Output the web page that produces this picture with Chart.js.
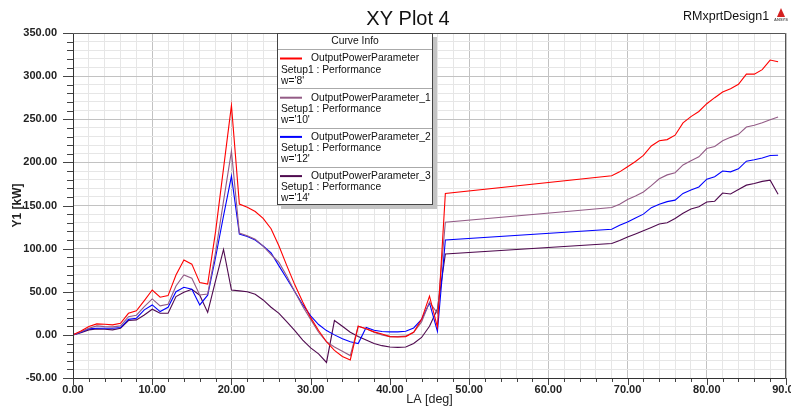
<!DOCTYPE html>
<html><head><meta charset="utf-8">
<script src="https://cdn.jsdelivr.net/npm/chart.js@4.4.0/dist/chart.umd.min.js"></script>
<style>html,body{margin:0;padding:0;background:#fff;}#wrap{width:791px;height:408px;position:relative;}</style>
</head><body><div id="wrap"><canvas id="c" width="791" height="408"></canvas></div>
<script>
// LA [deg] sample positions (shared by all curves)
const LA = [0,1,2,3,4,5,6,7,8,9,10,11,12,13,14,15,16,17,18,19,20,21,22,23,24,25,26,27,28,29,30,31,32,33,34,35,36,37,38,39,40,41,42,43,44,45,46,47,
            68,69,70,71,72,73,74,75,76,77,78,79,80,81,82,83,84,85,86,87,88,89];
// Y1 [kW]
const powerW8 = [0,4.5,9.6,12.7,12.3,11.6,13.5,25,27.8,39.7,52,43.6,45.5,69.4,86.8,82,60.6,59,120,193,266,151.6,148,143,135,123,103,80,58,38,20,5,-8,-18,-25,-29,10,7,3.5,1,-2,-2.5,-2,3,18,45,9,164,
                 184.4,189,195,201,208,219,225,226.4,231.5,245.8,253,259,268,275,281.5,285.5,290.5,302.3,302.3,307.5,318.6,316.6];
const powerW10 = [0,3.5,7.7,10.4,9.6,9.3,10.4,21,22.8,32.8,41.7,33.6,35.5,56.7,69.4,65.6,46.3,47.4,96,155,213,118,115,111,103,93,84,68,50,33,18,3,-8,-14,-19,-24,10,7,3,0,-2,-2,-1.5,3,15,38,25,130.5,
                  147.7,151.4,157,161,165.7,173,181,185.5,188,197,202,206.5,216,218.5,225,229,232.5,241,243,246,249.5,252.6];
const powerW12 = [0,3,7,7.7,7.7,7.7,8.5,18,19.3,29,34.7,27,32,50,55.2,52.8,34.7,46,90,138,184,117,114,110,103,95,80,65,50,35,22,12,5,0,-4.5,-8,-10,8.5,5.4,4,3.5,3.5,4.2,8,18,37,4,110,
                  122.5,127,131,135.5,140,147.5,151.5,154.5,156.2,164,168,171.5,180.5,183.3,190,189,192.5,201.4,203,205,208,208.3];
const powerW14 = [0,2.5,5.8,7,6.6,5.8,7.7,16.6,17.4,23,29.7,25,25,44.4,49.4,52.8,46,26,63,99,52,51,50,47,40.5,32,25,15,5,-6,-15,-22,-32,16.6,10,3,-2,-6,-10,-12.5,-14,-14.5,-14,-10,-3,10,30,93.7,
                  106,109.5,113.5,117,120.7,124.5,128.5,130,135,141,146,148.5,154,155,164.5,163.3,168.5,173.6,175.5,178,179.4,163];
const curveNames = ['OutputPowerParameter','OutputPowerParameter_1','OutputPowerParameter_2','OutputPowerParameter_3'];
const curveSetup = 'Setup1 : Performance';
const curveW = ["w='8'","w='10'","w='12'","w='14'"];
const curveColors = ['#ff0000','#935b86','#0000ff','#4f0a4f'];
const seriesValues = [powerW8, powerW10, powerW12, powerW14];
const xTickStep = 2, xMajor = 10, yTickStep = 10, yMajor = 50;

const FONT = '"Liberation Sans", Arial, sans-serif';
const isMul = (v, m) => Math.abs(v / m - Math.round(v / m)) < 1e-6;

const decor = {
  id: 'decor',
  beforeDraw(chart) {
    const ctx = chart.ctx; ctx.save(); ctx.fillStyle = '#fff'; ctx.fillRect(0, 0, chart.width, chart.height); ctx.restore();
  },
  afterDatasetsDraw(chart) {
    const {ctx, chartArea: a, scales: {x, y}} = chart;
    ctx.save();
    // tick marks
    ctx.strokeStyle = '#444'; ctx.lineWidth = 1;
    ctx.beginPath();
    x.ticks.forEach(t => {
      const px = Math.round(x.getPixelForValue(t.value)) + 0.5;
      const len = isMul(t.value, xMajor) ? 7 : 4;
      ctx.moveTo(px, a.bottom); ctx.lineTo(px, a.bottom + len);
    });
    y.ticks.forEach(t => {
      const py = Math.round(y.getPixelForValue(t.value)) + 0.5;
      const len = isMul(t.value, yMajor) ? 10 : 6;
      ctx.moveTo(a.left - len, py); ctx.lineTo(a.left, py);
    });
    ctx.stroke();
    // plot frame
    ctx.strokeStyle = '#555';
    ctx.beginPath();
    ctx.moveTo(Math.round(a.left) + 0.5, Math.round(a.top) + 0.5);
    ctx.lineTo(Math.round(a.right) - 0.5, Math.round(a.top) + 0.5);
    ctx.lineTo(Math.round(a.right) - 0.5, Math.round(a.bottom) + 0.5);
    ctx.stroke();
    ctx.strokeStyle = '#333';
    ctx.beginPath();
    ctx.moveTo(Math.round(a.left) + 0.5, Math.round(a.top) + 0.5);
    ctx.lineTo(Math.round(a.left) + 0.5, Math.round(a.bottom) + 0.5);
    ctx.lineTo(Math.round(a.right) - 0.5, Math.round(a.bottom) + 0.5);
    ctx.stroke();

    // titles
    ctx.fillStyle = '#111';
    ctx.font = '20px ' + FONT; ctx.textAlign = 'center'; ctx.textBaseline = 'middle';
    ctx.fillText('XY Plot 4', 408, 19);
    ctx.font = '12.5px ' + FONT; ctx.textAlign = 'left';
    ctx.fillText('RMxprtDesign1', 683, 16.5);
    // small logo mark
    ctx.fillStyle = '#d42020';
    ctx.beginPath(); ctx.moveTo(781, 8); ctx.lineTo(777, 17); ctx.lineTo(785, 17); ctx.closePath(); ctx.fill();
    ctx.fillStyle = '#555'; ctx.font = 'bold 4px ' + FONT; ctx.textAlign = 'center';
    ctx.fillText('ANSYS', 781, 20);

    // legend box
    const L = 277, T = 33, R = 433, B = 205;
    ctx.fillStyle = '#c4c4c4';
    ctx.fillRect(L + 4, T + 4, R - L, B - T);
    ctx.fillStyle = '#fff';
    ctx.fillRect(L, T, R - L, B - T);
    ctx.strokeStyle = '#444'; ctx.lineWidth = 1;
    ctx.strokeRect(L + 0.5, T + 0.5, R - L - 1, B - T - 1);
    ctx.fillStyle = '#111';
    ctx.font = '10.3px ' + FONT; ctx.textAlign = 'center'; ctx.textBaseline = 'middle';
    ctx.fillText('Curve Info', (L + R) / 2, 41.5);
    ctx.strokeStyle = '#aaa';
    ctx.beginPath(); ctx.moveTo(L + 1, 49.5); ctx.lineTo(R - 1, 49.5); ctx.stroke();
    chart.data.datasets.forEach((ds, i) => {
      const top = 49.2 + i * 39.2;
      ctx.strokeStyle = ds.borderColor; ctx.lineWidth = 2;
      ctx.beginPath(); ctx.moveTo(280, top + 9.3); ctx.lineTo(302, top + 9.3); ctx.stroke();
      ctx.fillStyle = '#111'; ctx.textAlign = 'left';
      ctx.fillText(ds.label, 311, top + 9.3);
      ctx.fillText(curveSetup, 281, top + 20.8);
      ctx.fillText(curveW[i], 281, top + 31.8);
      if (i < 3) {
        ctx.strokeStyle = '#aaa'; ctx.lineWidth = 1;
        ctx.beginPath(); ctx.moveTo(L + 1, Math.round(top + 39.2) + 0.5); ctx.lineTo(R - 1, Math.round(top + 39.2) + 0.5); ctx.stroke();
      }
    });
    ctx.restore();
  }
};

const datasets = seriesValues.map((vals, i) => ({
  label: curveNames[i],
  data: LA.map((a, k) => ({x: a, y: vals[k]})),
  borderColor: curveColors[i],
  borderWidth: 1.1,
  pointRadius: 0,
  tension: 0,
  fill: false
}));

new Chart(document.getElementById('c'), {
  type: 'line',
  data: {datasets},
  plugins: [decor],
  options: {
    responsive: false,
    animation: false,
    devicePixelRatio: 1,
    layout: {padding: {top: 33, right: 5, left: 0, bottom: 0}},
    plugins: {legend: {display: false}, title: {display: false}, tooltip: {enabled: false}},
    scales: {
      x: {
        type: 'linear', min: 0, max: 90,
        afterFit(s) { s.height = 30; s.paddingLeft = 0; s.paddingRight = 0; },
        border: {display: false},
        grid: {
          color: c => isMul(c.tick.value, xMajor) ? '#c2c2c2' : '#e6e6e6',
          lineWidth: 1, drawTicks: true, tickLength: 7, tickColor: 'rgba(0,0,0,0)'
        },
        ticks: {
          stepSize: xTickStep, autoSkip: false, maxRotation: 0, maxTicksLimit: 200, padding: -2,
          color: '#222', font: {family: FONT, size: 11, weight: 'bold'},
          callback: v => isMul(v, xMajor) ? Number(v).toFixed(2) : ''
        },
        title: {display: true, text: 'LA [deg]', color: '#222', font: {family: FONT, size: 12.5}, padding: {top: 0, bottom: 0.8}}
      },
      y: {
        type: 'linear', min: -50, max: 350,
        afterFit(s) { s.width = 73; },
        border: {display: false},
        grid: {
          color: c => isMul(c.tick.value, yMajor) ? '#c2c2c2' : '#e6e6e6',
          lineWidth: 1, drawTicks: true, tickLength: 10, tickColor: 'rgba(0,0,0,0)'
        },
        ticks: {
          stepSize: yTickStep, autoSkip: false, maxTicksLimit: 200, padding: 6,
          color: '#222', font: {family: FONT, size: 11, weight: 'bold'},
          callback: v => isMul(v, yMajor) ? Number(v).toFixed(2) : ''
        },
        title: {display: true, text: 'Y1 [kW]', color: '#222', font: {family: FONT, size: 12, weight: 'bold'}, padding: {top: 10.3, bottom: 0}}
      }
    }
  }
});
</script>
</body></html>
